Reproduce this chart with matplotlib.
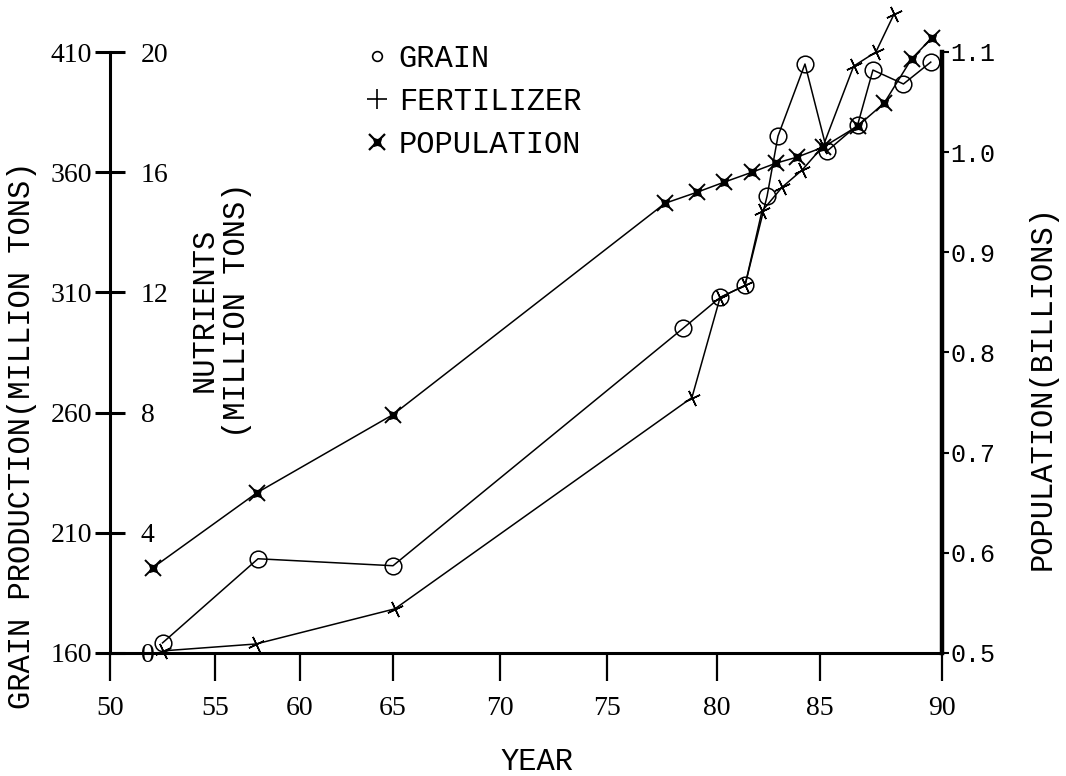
import numpy as np
import matplotlib
matplotlib.use('Agg')
import matplotlib.pyplot as plt
from matplotlib.lines import Line2D
from matplotlib.legend_handler import HandlerTuple

# values (years are 19xx)
grain_years = [52.5, 57.53, 65.0, 78.45, 80.15, 81.36, 82.43, 82.96, 84.27, 85.29, 86.54, 87.17, 88.42, 89.54]
grain = [164.2, 199.2, 196.3, 295.0, 307.9, 312.9, 350.0, 375.0, 405.0, 368.8, 379.6, 402.5, 396.7, 405.8]

fert_years = [52.5, 57.41, 65.09, 78.86, 80.15, 81.36, 82.18, 83.16, 84.13, 85.13, 86.38, 87.29, 88.04]
fert = [0.07, 0.3, 1.47, 8.5, 11.83, 12.23, 14.7, 15.5, 16.07, 16.87, 19.53, 20.0, 21.27]

pop_years = [52.03, 57.47, 65.0, 77.64, 79.09, 80.34, 81.70, 82.86, 83.88, 85.13, 86.54, 87.63, 88.75, 89.58]
pop = [0.585, 0.66, 0.738, 0.949, 0.96, 0.97, 0.98, 0.989, 0.995, 1.005, 1.026, 1.049, 1.093, 1.114]

year_ticks = [50, 55, 60, 65, 70, 75, 80, 85, 90]
# the year axis was drawn by hand, the gaps between ticks are not equal
year_tick_spacing = [0, 105, 85, 93, 107, 107, 110, 103, 122]
grain_ticks = [160, 210, 260, 310, 360, 410]
nutrient_ticks = [0, 4, 8, 12, 16, 20]
pop_ticks = [0.5, 0.6, 0.7, 0.8, 0.9, 1.0, 1.1]
pop_labels = ['0.5', '0.6', '0.7', '0.8', '0.9', '1.0', '1.1']

SERIF = 'Liberation Serif'
MONO = 'Liberation Mono'

tick_pos = np.cumsum(year_tick_spacing).astype(float)


def fwd(x):
    return np.interp(x, year_ticks, tick_pos)


def inv(p):
    return np.interp(p, tick_pos, year_ticks)


W, H = 1066, 776
fig = plt.figure(figsize=(W / 100, H / 100), dpi=100)
ax = fig.add_axes([110 / W, 1 - 653 / H, (942 - 110) / W, (653 - 52) / H])
ax.set_xscale('function', functions=(fwd, inv))
ax.set_xlim(50, 90)
ax.set_ylim(160, 410)

ax2 = ax.twinx()
ax2.set_ylim(0.5, 1.1)
ax3 = ax.twinx()
ax3.set_ylim(0, 20)

lw = 1.1
ax.plot(grain_years, grain, color='k', lw=lw, marker='o', ms=12, mfc='none',
        mec='k', mew=1.1, clip_on=False, zorder=3)
ax3.plot(fert_years, fert, color='k', lw=lw, marker=(4, 2, 25), ms=12,
         mew=1.1, clip_on=False, zorder=3)
ax2.plot(pop_years, pop, color='k', lw=lw, marker='x', ms=12, mew=1.4,
         clip_on=False, zorder=3)
ax2.plot(pop_years, pop, ls='none', marker=(4, 1, 45), ms=8, color='k',
         clip_on=False, zorder=4)

# spines
for a in (ax, ax2, ax3):
    a.spines['top'].set_visible(False)
ax.spines['right'].set_visible(False)
ax.spines['left'].set_linewidth(2.2)
ax.spines['bottom'].set_linewidth(2.2)
ax2.spines['left'].set_visible(False)
ax2.spines['bottom'].set_visible(False)
ax2.spines['right'].set_linewidth(3.2)
for s in ax3.spines.values():
    s.set_visible(False)

# x axis
ax.set_xticks(year_ticks)
ax.set_xticklabels([str(y) for y in year_ticks], fontfamily=SERIF, fontsize=20)
ax.tick_params(axis='x', direction='out', length=20, width=1.6, pad=11)
ax.xaxis.set_minor_locator(matplotlib.ticker.NullLocator())

# left grain axis
ax.set_yticks(grain_ticks)
ax.set_yticklabels([str(v) for v in grain_ticks], fontfamily=SERIF, fontsize=20)
ax.tick_params(axis='y', direction='inout', length=22, width=2.2, pad=2)

# nutrient labels inside the left axis
ax3.yaxis.tick_left()
ax3.set_yticks(nutrient_ticks)
ax3.set_yticklabels([str(v) for v in nutrient_ticks], fontfamily=SERIF, fontsize=20)
ax3.tick_params(axis='y', length=0, pad=-22)
for t in ax3.get_yticklabels():
    t.set_horizontalalignment('left')

# right population axis
ax2.set_yticks(pop_ticks)
ax2.set_yticklabels(pop_labels, fontfamily=MONO, fontsize=18)
ax2.tick_params(axis='y', direction='out', length=5, width=1.5, pad=1)

# axis titles
fig.text(22 / W, 1 - 435 / H, 'GRAIN PRODUCTION(MILLION TONS)', rotation=90,
         ha='center', va='center', fontfamily=MONO, fontsize=22)
fig.text(1043 / W, 1 - 388 / H, 'POPULATION(BILLIONS)', rotation=90,
         ha='center', va='center', fontfamily=MONO, fontsize=22)
fig.text(221 / W, 1 - 310 / H, 'NUTRIENTS\n(MILLION TONS)', rotation=90,
         ha='center', va='center', multialignment='center',
         fontfamily=MONO, fontsize=22, linespacing=1.1)
fig.text(537 / W, 1 - 762 / H, 'YEAR', ha='center', va='center',
         fontfamily=MONO, fontsize=22)

# legend
h_grain = Line2D([], [], ls='none', marker='o', ms=7, mfc='none', mec='k', mew=1.2)
h_fert = Line2D([], [], ls='none', marker='+', ms=15, mec='k', mew=1.2)
h_pop = (Line2D([], [], ls='none', marker='x', ms=12, mec='k', mew=1.6),
         Line2D([], [], ls='none', marker=(4, 1, 45), ms=8, color='k'))
ax.legend([h_grain, h_fert, h_pop], ['GRAIN', 'FERTILIZER', 'POPULATION'],
          handler_map={tuple: HandlerTuple(ndivide=1)},
          loc='upper left', bbox_to_anchor=(362 / W, 1 - 44 / H),
          bbox_transform=fig.transFigure, frameon=False,
          prop={'family': MONO, 'size': 22}, handlelength=1.0,
          handletextpad=0.2, labelspacing=0.42, borderpad=0, borderaxespad=0)

fig.savefig('out.png', dpi=100, facecolor='white')
